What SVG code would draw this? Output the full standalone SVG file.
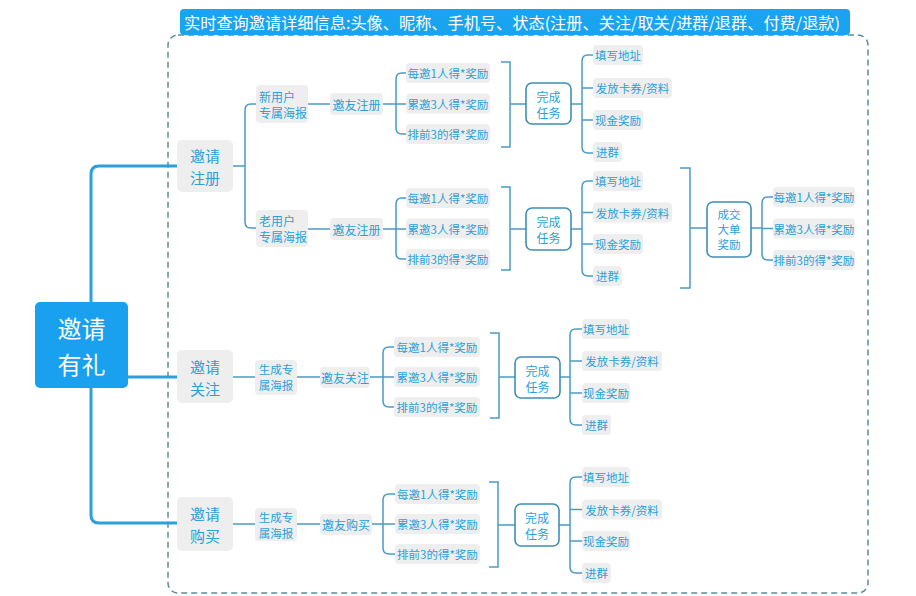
<svg xmlns="http://www.w3.org/2000/svg" width="916" height="596" viewBox="0 0 916 596">
<style>
text{font-family:"Noto Sans CJK SC","Noto Sans",sans-serif;}
.t{fill:#2a9fd8;text-anchor:middle;dominant-baseline:central;}
.ts{fill:#2a9fd8;text-anchor:start;dominant-baseline:central;}
.f15{font-size:15px;}
.f12{font-size:12px;}
.f11{font-size:11.5px;}
.g{fill:#eeeeee;}
.o{fill:#ffffff;stroke:#3f8fb5;stroke-width:1.6;}
.ln{fill:none;stroke:#4b9bc3;stroke-width:1.5;}
.tr{fill:none;stroke:#2aa1dc;stroke-width:3;}
</style>
<rect x="168" y="35" width="700" height="558" rx="10" fill="none" stroke="#5b8d9e" stroke-width="1.5" stroke-dasharray="6 4"/>
<g id="banner">
<rect x="180" y="9" width="670" height="26" rx="4" fill="#1aa3ef"/>
<text x="184" y="22" font-size="16" fill="#ffffff" dominant-baseline="central" textLength="656" lengthAdjust="spacingAndGlyphs">实时查询邀请详细信息:头像、昵称、手机号、状态(注册、关注/取关/进群/退群、付费/退款)</text>
</g>
<g id="connectors">
<path class="tr" d="M177 166 H99 Q91 166 91 174 V515 Q91 523 99 523 H177 M128 377 H177"/>
<path class="ln" d="M233 166 H245 M256 104 H251 Q245 104 245 110 V222 Q245 228 251 228 H256"/>
<path class="ln" d="M308 104 H330 M383 104 H396 M406 73 H402 Q396 73 396 79 V128 Q396 134 402 134 H406 M396 104 H406"/>
<path class="ln" d="M501 62 H510 V147 H501 M510 104 H526 M571 104 H582 M593 55 H588 Q582 55 582 61 V147 Q582 153 588 153 H593 M582 88 H593 M582 120 H593"/>
<path class="ln" d="M308 229 H330 M383 229 H396 M406 198 H402 Q396 198 396 204 V253 Q396 259 402 259 H406 M396 229 H406"/>
<path class="ln" d="M501 187 H510 V270 H501 M510 229 H526 M571 229 H582 M593 181 H588 Q582 181 582 187 V270 Q582 276 588 276 H593 M582 212.5 H593 M582 244 H593"/>
<path class="ln" d="M680 168 H690 V288 H680 M690 228 H707 M751 228 H762 M773 197 H768 Q762 197 762 203 V254 Q762 260 768 260 H773 M762 228.5 H773"/>
<path class="ln" d="M233 377 H255 M297 377 H320 M370 377 H383 M394 347 H389 Q383 347 383 353 V401 Q383 407 389 407 H394 M383 377 H394"/>
<path class="ln" d="M490 333 H499 V418 H490 M499 377 H515 M560 377 H570 M582 329 H576 Q570 329 570 335 V419 Q570 425 576 425 H582 M570 361 H582 M570 393 H582"/>
<path class="ln" d="M233 524 H255 M297 524 H320 M372 524 H383 M395 494 H389 Q383 494 383 500 V548 Q383 554 389 554 H395 M383 524 H395"/>
<path class="ln" d="M489 482 H498 V567 H489 M498 525 H515 M559 525 H570 M582 477 H576 Q570 477 570 483 V567 Q570 573 576 573 H582 M570 509.5 H582 M570 541 H582"/>
</g>
<g id="root">
<rect x="35" y="302" width="93" height="86" rx="5" fill="#19a0ef"/>
<text x="81.5" y="327" font-size="24" fill="#ffffff" text-anchor="middle" dominant-baseline="central">邀请</text>
<text x="81.5" y="363" font-size="24" fill="#ffffff" text-anchor="middle" dominant-baseline="central">有礼</text>
</g>
<g id="n-zhuce"><rect class="g" x="177" y="140" width="56" height="52" rx="5"/><text class="t f15" x="205" y="155">邀请</text><text class="t f15" x="205" y="177">注册</text></g>
<g id="n-guanzhu"><rect class="g" x="177" y="350" width="56" height="53" rx="5"/><text class="t f15" x="205" y="366">邀请</text><text class="t f15" x="205" y="388">关注</text></g>
<g id="n-goumai"><rect class="g" x="177" y="497" width="56" height="54" rx="5"/><text class="t f15" x="205" y="513">邀请</text><text class="t f15" x="205" y="535">购买</text></g>
<g id="n-xinyonghu"><rect class="g" x="256" y="85" width="52" height="38" rx="4"/><text class="ts f12" x="259" y="96">新用户</text><text class="ts f12" x="259" y="112">专属海报</text></g>
<g id="n-laoyonghu"><rect class="g" x="256" y="210" width="52" height="37" rx="4"/><text class="ts f12" x="259" y="220.5">老用户</text><text class="ts f12" x="259" y="236.5">专属海报</text></g>
<g id="n-yaoyou1"><rect class="g" x="330" y="93" width="53" height="22" rx="4"/><text class="t f12" x="356.5" y="104">邀友注册</text></g>
<g id="n-a1"><rect class="g" x="406" y="63" width="84" height="20" rx="4"/><text class="t f11" x="448" y="73">每邀1人得*奖励</text></g>
<g id="n-a2"><rect class="g" x="406" y="93.5" width="84" height="20" rx="4"/><text class="t f11" x="448" y="103.5">累邀3人得*奖励</text></g>
<g id="n-a3"><rect class="g" x="406" y="124" width="84" height="20" rx="4"/><text class="t f11" x="448" y="134">排前3的得*奖励</text></g>
<g id="n-wc1"><rect class="o" x="526" y="83" width="45" height="41" rx="6"/><text class="t f12" x="548.5" y="96">完成</text><text class="t f12" x="548.5" y="112">任务</text></g>
<g id="n-b1"><rect class="g" x="593" y="45" width="50" height="20" rx="4"/><text class="t f11" x="618" y="55">填写地址</text></g>
<g id="n-b2"><rect class="g" x="593" y="78" width="79" height="20" rx="4"/><text class="t f11" x="632.5" y="88">发放卡券/资料</text></g>
<g id="n-b3"><rect class="g" x="593" y="110" width="50" height="20" rx="4"/><text class="t f11" x="618" y="120">现金奖励</text></g>
<g id="n-b4"><rect class="g" x="593" y="142" width="29" height="20" rx="4"/><text class="t f11" x="607.5" y="152">进群</text></g>
<g id="n-yaoyou2"><rect class="g" x="330" y="218" width="53" height="22" rx="4"/><text class="t f12" x="356.5" y="229">邀友注册</text></g>
<g id="n-c1"><rect class="g" x="406" y="188" width="84" height="20" rx="4"/><text class="t f11" x="448" y="198">每邀1人得*奖励</text></g>
<g id="n-c2"><rect class="g" x="406" y="218.5" width="84" height="20" rx="4"/><text class="t f11" x="448" y="228.5">累邀3人得*奖励</text></g>
<g id="n-c3"><rect class="g" x="406" y="249" width="84" height="20" rx="4"/><text class="t f11" x="448" y="259">排前3的得*奖励</text></g>
<g id="n-wc2"><rect class="o" x="526" y="208" width="45" height="42" rx="6"/><text class="t f12" x="548.5" y="221">完成</text><text class="t f12" x="548.5" y="237">任务</text></g>
<g id="n-d1"><rect class="g" x="593" y="171" width="50" height="20" rx="4"/><text class="t f11" x="618" y="181">填写地址</text></g>
<g id="n-d2"><rect class="g" x="593" y="202.5" width="79" height="20" rx="4"/><text class="t f11" x="632.5" y="212.5">发放卡券/资料</text></g>
<g id="n-d3"><rect class="g" x="593" y="234" width="50" height="20" rx="4"/><text class="t f11" x="618" y="244">现金奖励</text></g>
<g id="n-d4"><rect class="g" x="593" y="266" width="29" height="20" rx="4"/><text class="t f11" x="607.5" y="276">进群</text></g>
<g id="n-chengjiao"><rect class="o" x="707" y="202" width="44" height="55" rx="6"/><text class="t f11" x="729" y="214">成交</text><text class="t f11" x="729" y="229">大单</text><text class="t f11" x="729" y="244">奖励</text></g>
<g id="n-e1"><rect class="g" x="773" y="187" width="82" height="20" rx="4"/><text class="t f11" x="814" y="197">每邀1人得*奖励</text></g>
<g id="n-e2"><rect class="g" x="773" y="218.5" width="82" height="20" rx="4"/><text class="t f11" x="814" y="228.5">累邀3人得*奖励</text></g>
<g id="n-e3"><rect class="g" x="773" y="250" width="82" height="20" rx="4"/><text class="t f11" x="814" y="260">排前3的得*奖励</text></g>
<g id="n-haibao2"><rect class="g" x="255" y="360" width="42" height="35" rx="4"/><text class="t f11" x="276" y="369">生成专</text><text class="t f11" x="276" y="385">属海报</text></g>
<g id="n-yaoyou3"><rect class="g" x="320" y="367" width="50" height="21" rx="4"/><text class="t f12" x="345" y="377.5">邀友关注</text></g>
<g id="n-f1"><rect class="g" x="394" y="337" width="86" height="20" rx="4"/><text class="t f11" x="437" y="347">每邀1人得*奖励</text></g>
<g id="n-f2"><rect class="g" x="394" y="367" width="86" height="20" rx="4"/><text class="t f11" x="437" y="377">累邀3人得*奖励</text></g>
<g id="n-f3"><rect class="g" x="394" y="397" width="86" height="20" rx="4"/><text class="t f11" x="437" y="407">排前3的得*奖励</text></g>
<g id="n-wc3"><rect class="o" x="515" y="357" width="45" height="41" rx="6"/><text class="t f12" x="537.5" y="370">完成</text><text class="t f12" x="537.5" y="386">任务</text></g>
<g id="n-g1"><rect class="g" x="582" y="319" width="48" height="20" rx="4"/><text class="t f11" x="606" y="329">填写地址</text></g>
<g id="n-g2"><rect class="g" x="582" y="351" width="80" height="20" rx="4"/><text class="t f11" x="622" y="361">发放卡券/资料</text></g>
<g id="n-g3"><rect class="g" x="582" y="383" width="48" height="20" rx="4"/><text class="t f11" x="606" y="393">现金奖励</text></g>
<g id="n-g4"><rect class="g" x="582" y="415" width="29" height="20" rx="4"/><text class="t f11" x="596.5" y="425">进群</text></g>
<g id="n-haibao3"><rect class="g" x="255" y="508" width="42" height="33" rx="4"/><text class="t f11" x="276" y="516.5">生成专</text><text class="t f11" x="276" y="532.5">属海报</text></g>
<g id="n-yaoyou4"><rect class="g" x="320" y="514" width="52" height="21" rx="4"/><text class="t f12" x="346" y="524.5">邀友购买</text></g>
<g id="n-h1"><rect class="g" x="395" y="484" width="85" height="20" rx="4"/><text class="t f11" x="437.5" y="494">每邀1人得*奖励</text></g>
<g id="n-h2"><rect class="g" x="395" y="514" width="85" height="20" rx="4"/><text class="t f11" x="437.5" y="524">累邀3人得*奖励</text></g>
<g id="n-h3"><rect class="g" x="395" y="544" width="85" height="20" rx="4"/><text class="t f11" x="437.5" y="554">排前3的得*奖励</text></g>
<g id="n-wc4"><rect class="o" x="515" y="504" width="44" height="42" rx="6"/><text class="t f12" x="537" y="517">完成</text><text class="t f12" x="537" y="533">任务</text></g>
<g id="n-i1"><rect class="g" x="582" y="467" width="48" height="20" rx="4"/><text class="t f11" x="606" y="477">填写地址</text></g>
<g id="n-i2"><rect class="g" x="582" y="499.5" width="80" height="20" rx="4"/><text class="t f11" x="622" y="509.5">发放卡券/资料</text></g>
<g id="n-i3"><rect class="g" x="582" y="531" width="48" height="20" rx="4"/><text class="t f11" x="606" y="541">现金奖励</text></g>
<g id="n-i4"><rect class="g" x="582" y="563" width="29" height="20" rx="4"/><text class="t f11" x="596.5" y="573">进群</text></g>
</svg>
